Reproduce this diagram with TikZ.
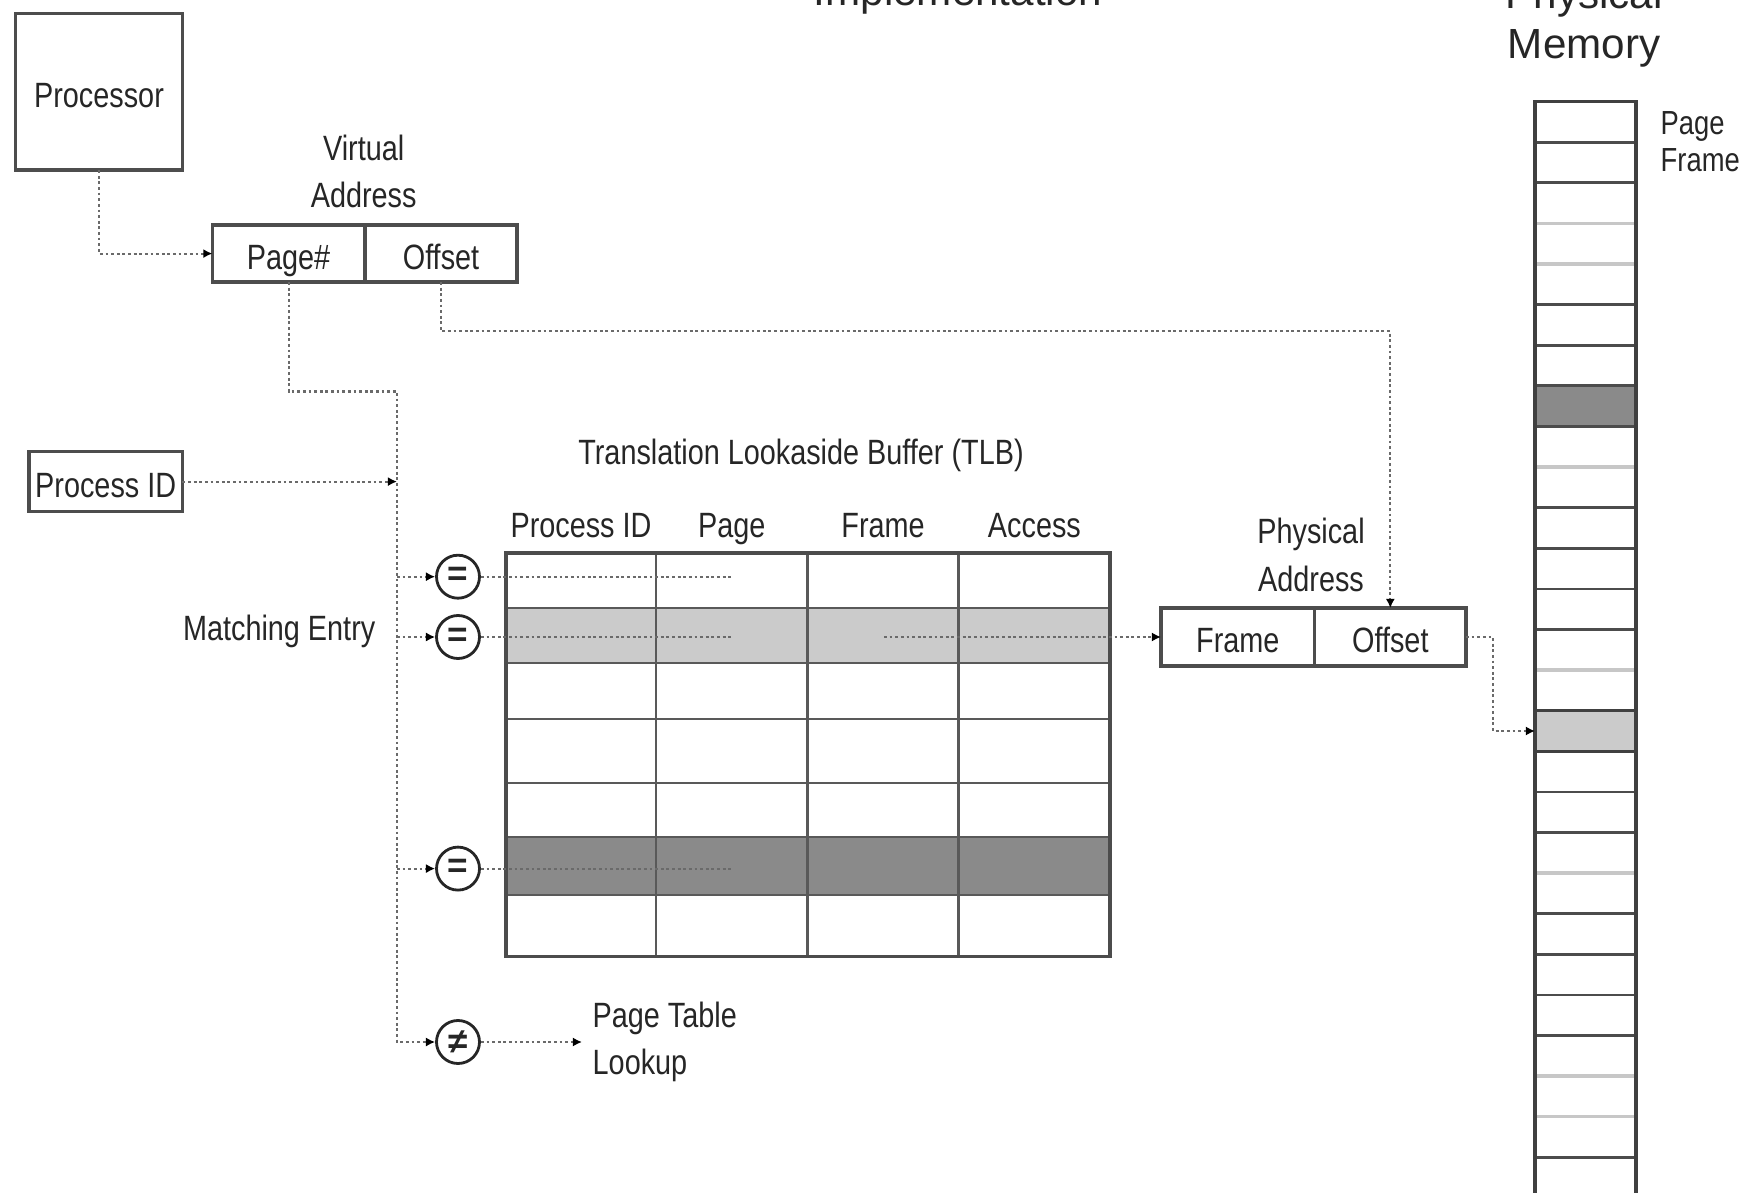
\documentclass[tikz,border=0pt]{standalone}
\usepackage{fontspec}
\setmainfont{Liberation Sans}
\newfontfamily\narrowfont[FakeStretch=0.82]{Liberation Sans}
\usepackage{tikz}
\usetikzlibrary{arrows.meta, positioning, calc}
\definecolor{inkgray}{HTML}{262626}
\definecolor{framegray}{HTML}{4D4D4D}
\definecolor{hitgray}{HTML}{CBCBCB}
\definecolor{rowgray}{HTML}{8A8A8A}
\definecolor{dotgray}{HTML}{6A6A6A}

\tikzset{
  lbl/.style={font=\narrowfont\fontsize{10}{13.3}\selectfont, text=inkgray, inner sep=0pt},
  addrbox/.style={lbl, draw=framegray, line width=1pt, outer sep=0pt, minimum height=0.57cm,
                  text height=1.8ex, text depth=0.1ex},
  conn/.style={draw=dotgray, line width=0.6pt, dash pattern=on 0.8pt off 0.8pt},
  arr/.style={conn, -{Latex[length=2.6pt, width=2.6pt, color=black]}},
  cmpnode/.style={circle, draw=inkgray, line width=0.8pt, minimum size=0.43cm, inner sep=0pt,
                  text=inkgray, font=\bfseries\fontsize{10}{10}\selectfont},
  tblline/.style={draw=black!65, line width=0.8pt},
  memline/.style={draw=black!70, line width=0.8pt},
  memfaint/.style={draw=black!22, line width=1pt}
}

\begin{document}
\begin{tikzpicture}
\useasboundingbox (0,0) rectangle (17.44,-11.93);

% titles, cut by the page edge
\node[font=\fontsize{12}{12.6}\selectfont, text=inkgray, anchor=base] (impl) at (9.58,-0.06) {Implementation};
\node[font=\fontsize{12}{14.2}\selectfont, text=inkgray, align=center, anchor=south, inner sep=0pt] (memtitle) at (15.84,-0.68) {Physical\\Memory};

% processor and virtual address
\node[addrbox, minimum width=1.668cm, minimum height=1.569cm] (proc) at (0.99,-0.9175) {Processor};
\node[lbl, align=center] (valab) at (3.637,-1.713) {Virtual\\Address};
\node[addrbox, minimum width=1.524cm] (vpage) at (2.886,-2.536) {Page\#};
\node[addrbox, minimum width=1.524cm, right=0pt of vpage] (voff) {Offset};
\node[addrbox, minimum width=1.535cm, minimum height=0.6cm] (pid) at (1.057,-4.816) {Process ID};

\coordinate (bustop) at (3.97,-3.915);
\coordinate (busbot) at (3.97,-10.42);

% TLB
\node[lbl] (tlbtitle) at (8.01,-4.55) {Translation Lookaside Buffer (TLB)};
\foreach \name/\x/\id in {Process ID/5.81/hpid, Page/7.318/hpage, Frame/8.831/hframe, Access/10.344/hacc}
  \node[lbl, text height=1.6ex, text depth=0.3ex] (\id) at (\x,-5.25) {\name};
\fill[hitgray] (5.06,-6.08) rectangle (11.10,-6.63);
\fill[rowgray] (5.06,-8.37) rectangle (11.10,-8.95);
\foreach \y in {6.08,6.63,7.19,7.83,8.37,8.95}
  \draw[tblline] (5.06,-\y) -- (11.10,-\y);
\foreach \x in {6.56,8.075,9.587}
  \draw[tblline] (\x,-5.53) -- (\x,-9.565);
\draw[draw=black!70, line width=1pt] (5.06,-5.53) rectangle (11.10,-9.565);

% comparators
\node[cmpnode] (eq1) at (4.58,-5.767) {=};
\node[cmpnode] (eq2) at (4.58,-6.37) {=};
\node[cmpnode] (eq3) at (4.58,-8.686) {=};
\node[cmpnode] (neq) at (4.58,-10.42) {≠};
\node[lbl, anchor=east] (match) at (3.76,-6.31) {Matching Entry};
\node[lbl, align=left, anchor=west, inner sep=1mm] (ptlab) at (5.82,-10.42) {Page Table\\Lookup};

% physical address
\node[lbl, font=\narrowfont\fontsize{10}{13.9}\selectfont, align=center] (palab) at (13.11,-5.55) {Physical\\Address};
\node[addrbox, minimum width=1.536cm, minimum height=0.58cm] (pframe) at (12.378,-6.37) {Frame};
\node[addrbox, minimum width=1.514cm, minimum height=0.58cm, right=0pt of pframe] (poff) {Offset};

% physical memory
\fill[rowgray] (15.35,{-1.017-0.406*7}) rectangle (16.36,{-1.017-0.406*8});
\foreach \k in {1,2,5,6,7,8,10,11,12,13,15,16,17,18,20,21,22,23,26,27}
  \draw[memline] (15.35,{-1.017-0.406*\k}) -- (16.36,{-1.017-0.406*\k});
\foreach \k in {3,4,9,14,19,24,25}
  \draw[memfaint] (15.35,{-1.017-0.406*\k}) -- (16.36,{-1.017-0.406*\k});
\draw[draw=black!75, line width=1pt] (15.35,-12.2) -- (15.35,-1.017) -- (16.36,-1.017) -- (16.36,-12.2);
\node[draw=black!75, line width=1pt, fill=hitgray, minimum width=1.01cm, minimum height=0.406cm, outer sep=0pt] (hitframe) at (15.855,-7.31) {};
\node[lbl, font=\narrowfont\fontsize{9.5}{10.5}\selectfont, align=left, anchor=west] (pflab) at (16.60,-1.415) {Page\\Frame};

% connectors
\draw[arr] (proc.south) |- (vpage.west);
\draw[arr] (vpage.south) |- (bustop) -- (busbot) -- (neq.west);
\draw[arr] (pid.east) -- (bustop |- pid.east);
\foreach \e in {eq1,eq2,eq3}
  \draw[arr] (bustop |- \e) -- (\e.west);
\coordinate (pagecut) at (7.32,0);
\foreach \e in {eq1,eq2,eq3}
  \draw[conn] (\e.east) -- (pagecut |- \e);
\coordinate (framecut) at (8.84,0);
\draw[arr] (framecut |- pframe) -- (pframe.west);
\coordinate (offbend) at (0,-3.314);
\draw[arr] (voff.south) |- (offbend -| poff.north) -- (poff.north);
\coordinate (membend) at (14.93,0);
\draw[arr] (poff.east) -| (membend |- hitframe) -- (hitframe.west);
\draw[arr] (neq.east) -- (ptlab.west);
\end{tikzpicture}
\end{document}
